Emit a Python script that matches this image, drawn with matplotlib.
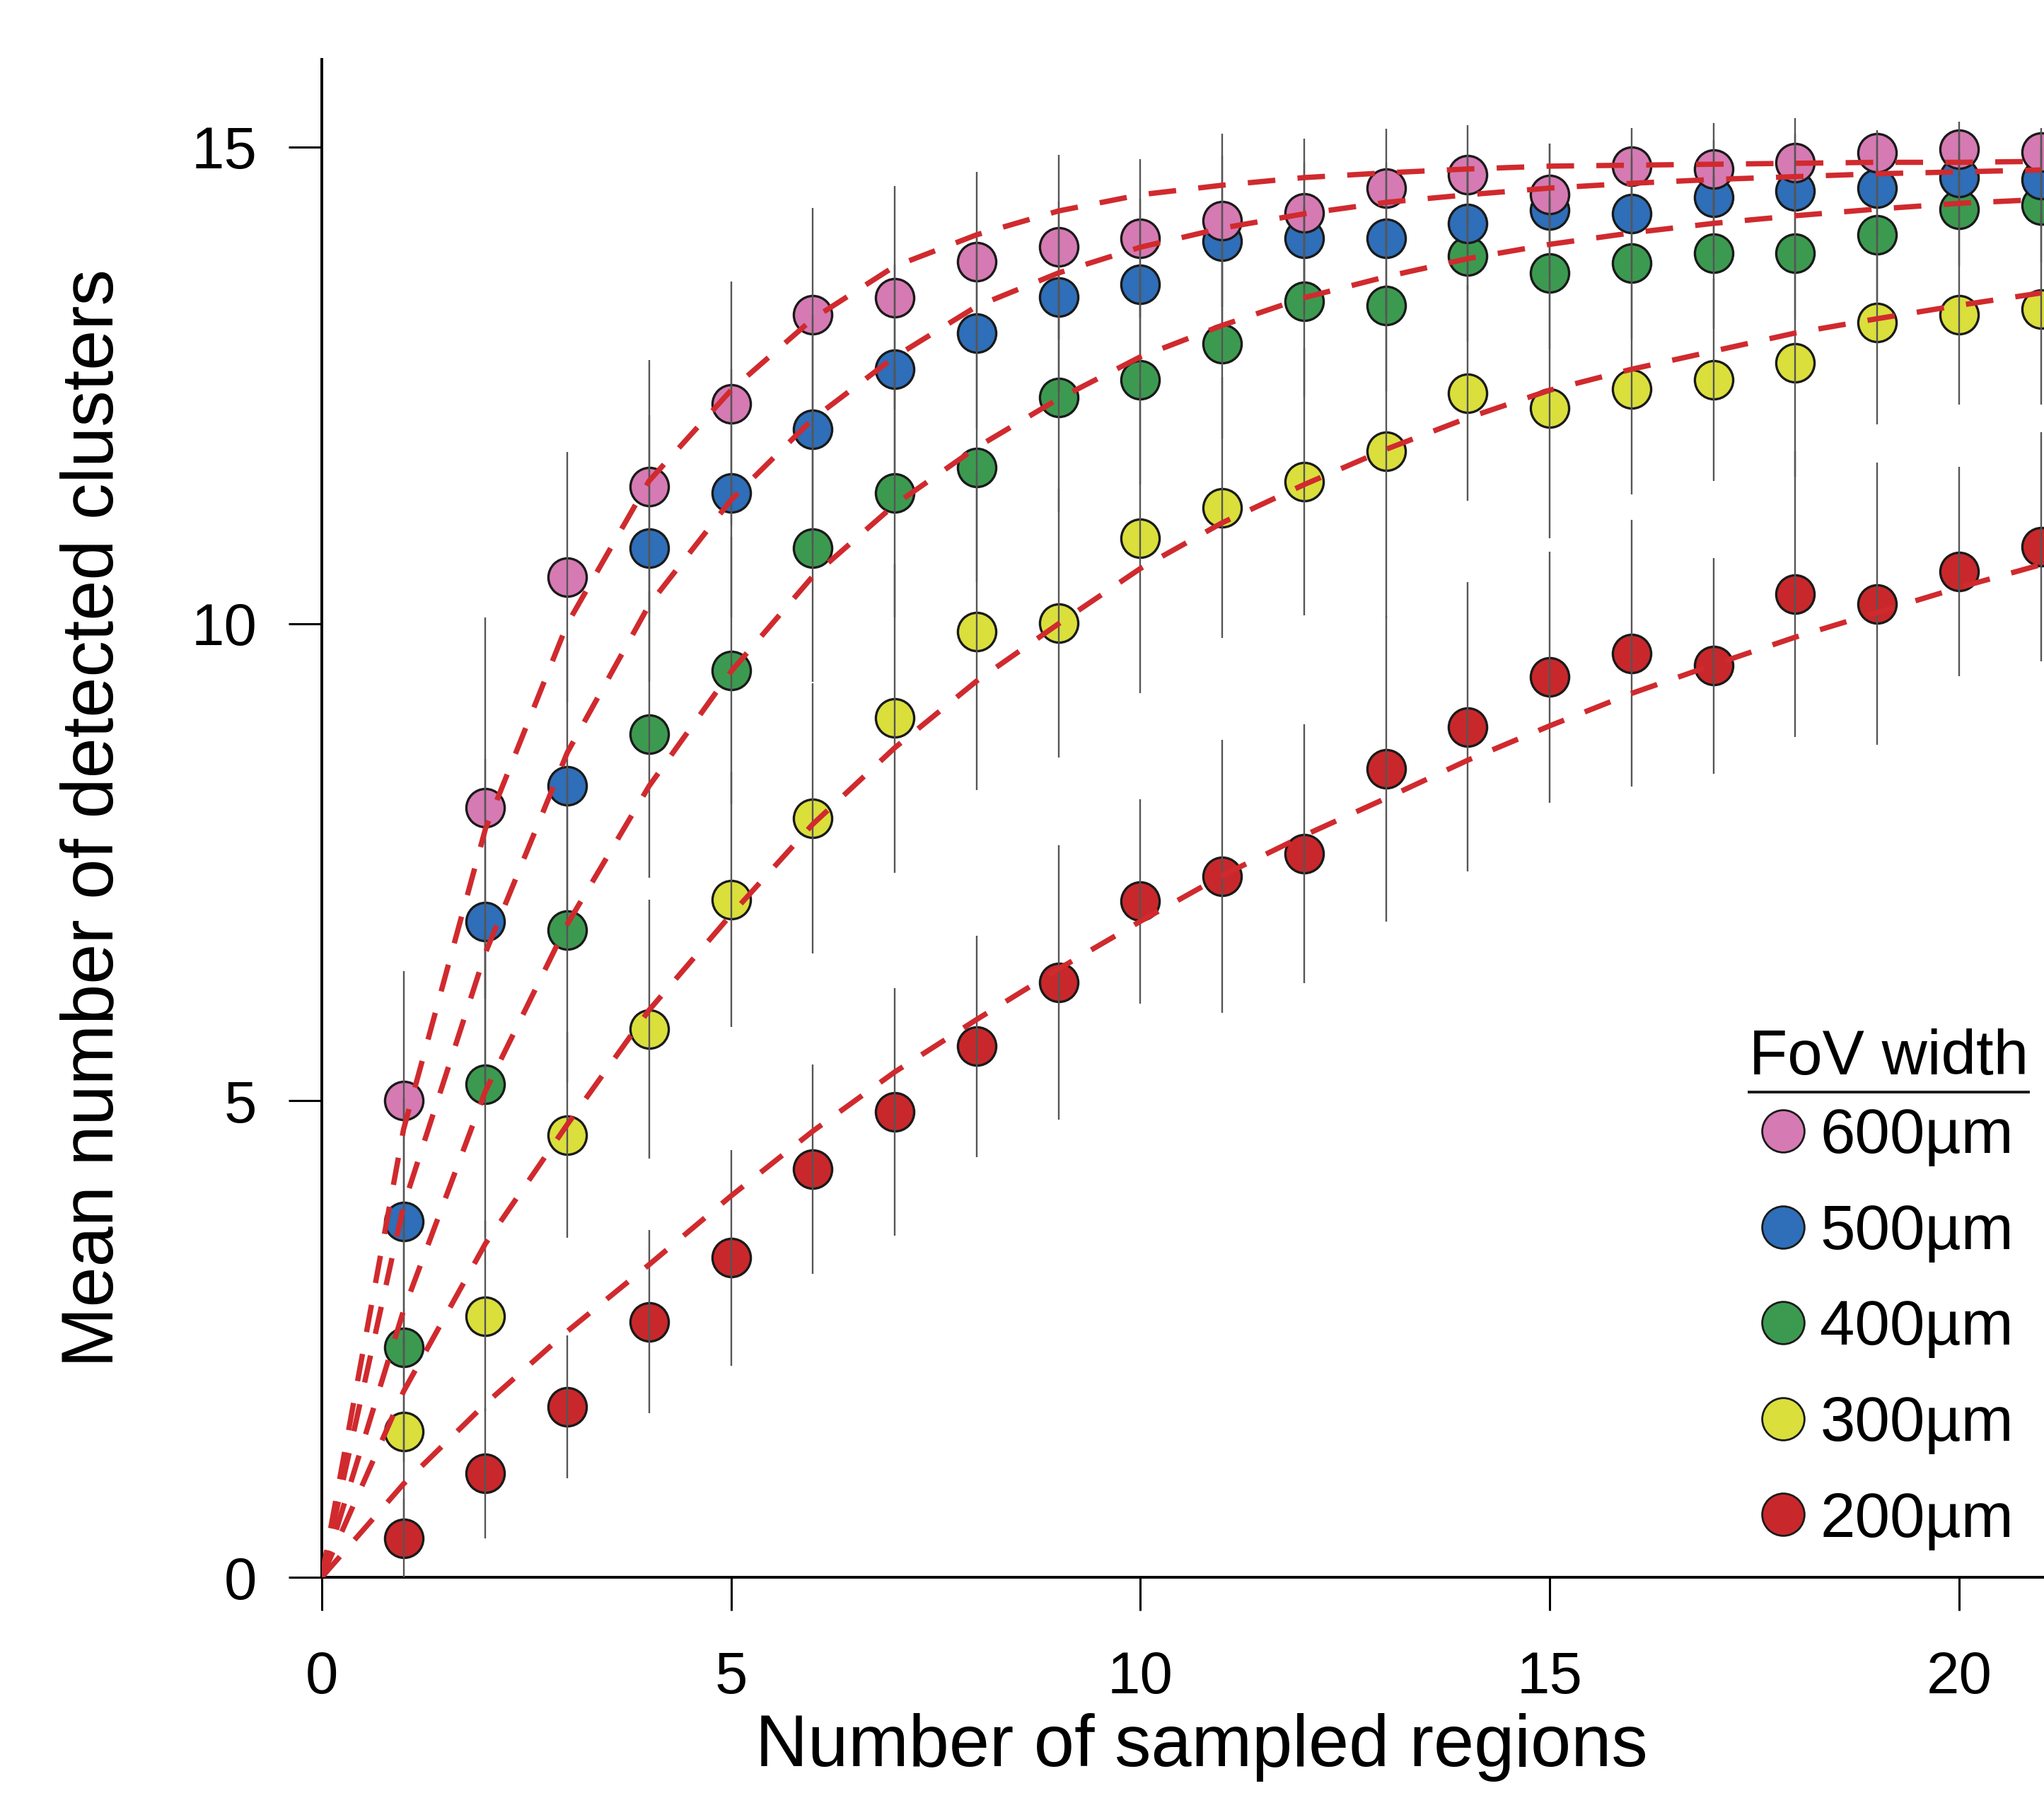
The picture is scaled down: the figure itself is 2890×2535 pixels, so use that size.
import matplotlib
matplotlib.use('Agg')
import matplotlib.pyplot as plt
from matplotlib.lines import Line2D

plt.rcParams['font.family'] = ['Liberation Sans', 'DejaVu Sans']

# sampled regions
x = list(range(1, 22))
x_fit = list(range(0, 22))

# mean number of detected clusters, per FoV width
m600 = [5.0, 8.07, 10.49, 11.44, 12.31, 13.24, 13.42, 13.80, 13.95, 14.04, 14.23,
        14.31, 14.57, 14.71, 14.50, 14.80, 14.77, 14.84, 14.94, 14.98, 14.95]
m500 = [3.73, 6.88, 8.30, 10.79, 11.37, 12.04, 12.67, 13.05, 13.43, 13.56, 14.01,
        14.04, 14.04, 14.20, 14.34, 14.30, 14.47, 14.54, 14.57, 14.68, 14.66]
m400 = [2.41, 5.17, 6.79, 8.84, 9.51, 10.79, 11.37, 11.64, 12.37, 12.56, 12.94,
        13.38, 13.34, 13.86, 13.68, 13.78, 13.89, 13.89, 14.08, 14.35, 14.39]
m300 = [1.53, 2.74, 4.64, 5.75, 7.11, 7.96, 9.01, 9.92, 10.01, 10.90, 11.22,
        11.49, 11.81, 12.42, 12.26, 12.46, 12.56, 12.74, 13.16, 13.24, 13.30]
m200 = [0.41, 1.09, 1.79, 2.68, 3.35, 4.28, 4.88, 5.57, 6.24, 7.09, 7.35,
        7.59, 8.48, 8.92, 9.44, 9.69, 9.56, 10.31, 10.21, 10.55, 10.81]

# spread (error bars)
e600 = [1.36, 2.0, 1.31, 1.33, 1.28, 1.12, 1.17, 0.94, 0.97, 0.83, 0.91,
        0.78, 0.62, 0.52, 0.54, 0.40, 0.48, 0.46, 0.24, 0.29, 0.25]
e500 = [1.3, 1.7, 1.5, 1.4, 1.3, 1.2, 1.1, 1.0, 1.0, 0.9, 0.9,
        0.8, 0.8, 0.7, 0.7, 0.6, 0.6, 0.6, 0.5, 0.5, 0.5]
e400 = [1.2, 1.6, 1.6, 1.5, 1.4, 1.4, 1.3, 1.2, 1.2, 1.1, 1.0,
        1.0, 0.9, 0.9, 0.8, 0.8, 0.8, 0.7, 0.7, 0.6, 0.6]
e300 = [1.0, 1.0, 1.08, 1.36, 1.34, 1.42, 1.62, 1.66, 1.41, 1.63, 1.37,
        1.4, 1.75, 1.13, 1.36, 1.1, 1.06, 1.2, 1.07, 0.94, 1.0]
e200 = [0.41, 0.68, 0.75, 0.96, 1.13, 1.1, 1.3, 1.16, 1.44, 1.07, 1.43,
        1.36, 1.6, 1.52, 1.32, 1.4, 1.13, 1.5, 1.48, 1.1, 1.2]

# fitted curves
f600 = [0, 4.7, 7.85, 10.0, 11.5, 12.45, 13.2, 13.75, 14.08, 14.33, 14.5,
        14.6, 14.68, 14.73, 14.77, 14.8, 14.81, 14.82, 14.83, 14.84, 14.84, 14.85]
f500 = [0, 3.9, 6.55, 8.65, 10.2, 11.3, 12.15, 12.8, 13.33, 13.68, 13.95,
        14.15, 14.3, 14.42, 14.5, 14.57, 14.62, 14.66, 14.69, 14.72, 14.74, 14.76]
f400 = [0, 2.8, 5.1, 6.85, 8.3, 9.5, 10.5, 11.25, 11.85, 12.36, 12.8,
        13.13, 13.42, 13.64, 13.83, 13.98, 14.1, 14.2, 14.28, 14.35, 14.41, 14.45]
f300 = [0, 1.95, 3.5, 4.75, 5.95, 6.95, 7.9, 8.7, 9.4, 10.0, 10.58,
        11.06, 11.46, 11.83, 12.16, 12.45, 12.67, 12.86, 13.05, 13.2, 13.34, 13.47]
f200 = [0, 0.98, 1.82, 2.58, 3.28, 4.0, 4.68, 5.3, 5.85, 6.38, 6.88,
        7.36, 7.78, 8.17, 8.57, 8.93, 9.27, 9.57, 9.86, 10.12, 10.38, 10.62]

labels = ['600\u00b5m', '500\u00b5m', '400\u00b5m', '300\u00b5m', '200\u00b5m']
colors = ['#d67ab3', '#2f6eb8', '#3c9a50', '#dadf3c', '#c8282b']
means = [m600, m500, m400, m300, m200]
errs = [e600, e500, e400, e300, e200]
fits = [f600, f500, f400, f300, f200]

fig = plt.figure(figsize=(14.45, 12.675), dpi=200)
ax = fig.add_axes([0.1574, 0.1203, 0.8611, 0.8466])

fitcol = '#d02a2e'
# draw 200 first so 600 ends on top
for i in range(4, -1, -1):
    ax.plot(x, means[i], 'o', ms=19.5, mfc=colors[i], mec='#1a1a1a', mew=1.2,
            zorder=3)
for i in range(4, -1, -1):
    ax.errorbar(x, means[i], yerr=errs[i], fmt='none', ecolor='#555555',
                elinewidth=0.85, capsize=0, zorder=4)
for i in range(4, -1, -1):
    ax.plot(x_fit, fits[i], color=fitcol, lw=2.7, dashes=(5.2, 4.2), zorder=5)

ax.set_xlim(0, 21.5)
ax.set_ylim(0, 15.92)
ax.set_xticks([0, 5, 10, 15, 20])
ax.set_yticks([0, 5, 10, 15])
for s in ['top', 'right']:
    ax.spines[s].set_visible(False)
for s in ['left', 'bottom']:
    ax.spines[s].set_linewidth(1.4)
ax.tick_params(direction='out', length=17, width=1.1, labelsize=30)
ax.tick_params(axis='x', pad=20)
ax.tick_params(axis='y', pad=16)

ax.set_xlabel('Number of sampled regions', fontsize=37, labelpad=4)
ax.set_ylabel('Mean number of detected clusters', fontsize=37, labelpad=32)

handles = [Line2D([], [], ls='none', marker='o', ms=21.5, mfc=colors[i],
                  mec='#1a1a1a', mew=1.0) for i in range(5)]
leg = ax.legend(handles, labels, title='FoV width', fontsize=32,
                title_fontsize=32, loc='upper left',
                bbox_to_anchor=(0.793, 0.3825), frameon=False,
                handletextpad=0.05, labelspacing=0.58, borderpad=0,
                handlelength=1.08)
leg._legend_box.align = 'left'
leg._legend_box.sep = 10

fig.canvas.draw()
bb = leg.get_title().get_window_extent()
fig.add_artist(Line2D([bb.x0, bb.x1], [bb.y0 - 6, bb.y0 - 6], color='#1a1a1a',
                      lw=1.4, transform=None))

fig.savefig('out.png', dpi=200)
